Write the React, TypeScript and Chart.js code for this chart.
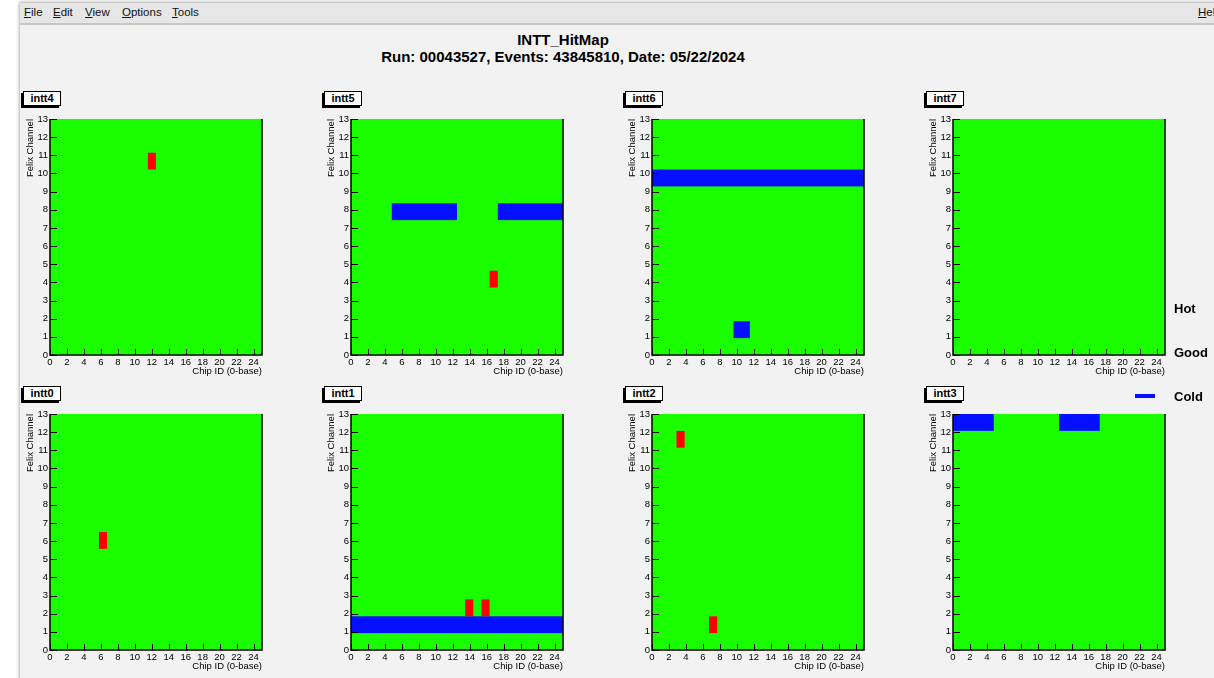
import React, { useEffect, useRef } from 'react';
import { Chart, registerables } from 'chart.js';

Chart.register(...registerables);
Chart.defaults.font.family = '"Liberation Sans", Arial, Helvetica, sans-serif';

// ---------- data ----------
const PANEL_NAMES = ['intt4', 'intt5', 'intt6', 'intt7', 'intt0', 'intt1', 'intt2', 'intt3'];
const X_TICKS = [0, 2, 4, 6, 8, 10, 12, 14, 16, 18, 20, 22, 24];
const Y_TICKS = [0, 1, 2, 3, 4, 5, 6, 7, 8, 9, 10, 11, 12, 13];
const X_MAX = 25;
const Y_MAX = 13;
const N_CHIPS = 26;
const N_CHANNELS = 14;

// hot cells (chip, channel) per panel
const HOT_CHIP = [[12], [17], [], [], [6], [14, 16], [3, 7], []];
const HOT_CHANNEL = [[11], [4], [], [], [6], [2, 2], [12, 1], []];

// cold blocks: chips from..to on a channel, per panel
const COLD_CHIP_FROM = [[], [5, 18], [0, 10], [], [], [0], [], [0, 13]];
const COLD_CHIP_TO = [[], [12, 25], [25, 11], [], [], [25], [], [4, 17]];
const COLD_CHANNEL = [[], [8, 8], [10, 1], [], [], [1], [], [13, 13]];

const LEGEND_LABELS = ['Hot', 'Good', 'Cold'];

const TITLE_1 = 'INTT_HitMap';
const TITLE_2 = 'Run: 00043527, Events: 43845810, Date: 05/22/2024';
const MENU_ITEMS = ['File', 'Edit', 'View', 'Options', 'Tools'];

// ---------- styles ----------
const GREEN = 'rgb(26,255,0)';
const RED = 'rgb(255,0,0)';
const BLUE = 'rgb(5,15,255)';
const BG = '#f2f2f2';
const FONT = '"Liberation Sans", Arial, Helvetica, sans-serif';
const AXIS_FONT = 9.5;

const PLOT_LEFTS = [50, 351, 652, 953];
const PLOT_TOPS = [119, 414];
const PLOT_W = 212;
const PLOT_H = 236;
const PAD_L = 30;
const PAD_T = 10;
const PAD_R = 10;
const PAD_B = 24;

const cellPlugin = {
  id: 'cells',
  afterDatasetsDraw(chart: any) {
    const { ctx, chartArea, scales } = chart;
    const xs = scales.x;
    const ys = scales.y;
    const bw = X_MAX / N_CHIPS;
    const bh = Y_MAX / N_CHANNELS;
    ctx.save();
    ctx.beginPath();
    ctx.rect(chartArea.left, chartArea.top, chartArea.right - chartArea.left, chartArea.bottom - chartArea.top);
    ctx.clip();
    chart.data.datasets.forEach((ds: any) => {
      ctx.fillStyle = ds.backgroundColor;
      ds.data.forEach((d: any) => {
        const x0 = xs.getPixelForValue(d.x * bw);
        const x1 = xs.getPixelForValue((d.x2 + 1) * bw);
        const y0 = ys.getPixelForValue(d.y * bh);
        const y1 = ys.getPixelForValue((d.y2 + 1) * bh);
        ctx.fillRect(Math.min(x0, x1), Math.min(y0, y1), Math.abs(x1 - x0), Math.abs(y1 - y0));
      });
    });
    ctx.restore();

    // inward tick marks
    ctx.save();
    ctx.strokeStyle = '#000';
    ctx.lineWidth = 1;
    ctx.beginPath();
    Y_TICKS.forEach((v) => {
      const py = Math.round(ys.getPixelForValue(v)) + 0.5;
      ctx.moveTo(chartArea.left, py);
      ctx.lineTo(chartArea.left + 7, py);
    });
    X_TICKS.forEach((v) => {
      const px = Math.round(xs.getPixelForValue(v)) + 0.5;
      ctx.moveTo(px, chartArea.bottom);
      ctx.lineTo(px, chartArea.bottom - 6);
    });
    ctx.stroke();
    // frame
    ctx.lineWidth = 1.5;
    ctx.beginPath();
    ctx.moveTo(chartArea.left, chartArea.top);
    ctx.lineTo(chartArea.left, chartArea.bottom);
    ctx.lineTo(chartArea.right, chartArea.bottom);
    ctx.lineTo(chartArea.right, chartArea.top);
    ctx.stroke();
    ctx.restore();
  },
};

function Panel({ index }: { index: number }) {
  const ref = useRef<HTMLCanvasElement | null>(null);
  const col = index % 4;
  const row = Math.floor(index / 4);
  const plotLeft = PLOT_LEFTS[col];
  const plotTop = PLOT_TOPS[row];

  useEffect(() => {
    if (!ref.current) return;
    const good = [{ x: 0, y: 0, x2: N_CHIPS - 1, y2: N_CHANNELS - 1 }];
    const cold = COLD_CHIP_FROM[index].map((c, k) => ({
      x: c,
      x2: COLD_CHIP_TO[index][k],
      y: COLD_CHANNEL[index][k],
      y2: COLD_CHANNEL[index][k],
    }));
    const hot = HOT_CHIP[index].map((c, k) => ({
      x: c,
      x2: c,
      y: HOT_CHANNEL[index][k],
      y2: HOT_CHANNEL[index][k],
    }));
    const chart = new Chart(ref.current, {
      type: 'scatter',
      data: {
        datasets: [
          { label: 'Good', data: good, backgroundColor: GREEN },
          { label: 'Cold', data: cold, backgroundColor: BLUE },
          { label: 'Hot', data: hot, backgroundColor: RED },
        ] as any,
      },
      options: {
        responsive: false,
        animation: false,
        events: [],
        layout: { padding: { left: 0, top: PAD_T, right: PAD_R, bottom: 0 } },
        elements: { point: { radius: 0, hoverRadius: 0 } },
        plugins: {
          legend: { display: false },
          tooltip: { enabled: false },
          title: { display: false },
        },
        scales: {
          x: {
            type: 'linear',
            min: 0,
            max: X_MAX,
            afterBuildTicks: (s: any) => {
              s.ticks = X_TICKS.map((v) => ({ value: v }));
            },
            afterFit: (s: any) => {
              s.height = PAD_B;
            },
            grid: { display: false, drawTicks: false },
            border: { display: false },
            ticks: {
              padding: 2,
              color: '#000',
              font: { size: AXIS_FONT },
              maxRotation: 0,
              autoSkip: false,
            },
            title: {
              display: true,
              text: 'Chip ID (0-base)',
              align: 'end',
              color: '#000',
              font: { size: AXIS_FONT },
              padding: { top: 0, bottom: 2 },
            },
          },
          y: {
            type: 'linear',
            min: 0,
            max: Y_MAX,
            afterBuildTicks: (s: any) => {
              s.ticks = Y_TICKS.map((v) => ({ value: v }));
            },
            afterFit: (s: any) => {
              s.width = PAD_L;
            },
            grid: { display: false, drawTicks: false },
            border: { display: false },
            ticks: {
              padding: 2,
              color: '#000',
              font: { size: AXIS_FONT },
              autoSkip: false,
            },
            title: {
              display: true,
              text: 'Felix Channel',
              align: 'end',
              color: '#000',
              font: { size: AXIS_FONT },
              padding: { top: 4.5, bottom: 0 },
            },
          },
        },
      } as any,
      plugins: [cellPlugin],
    });
    return () => chart.destroy();
  }, [index]);

  const cw = PAD_L + PLOT_W + PAD_R;
  const ch = PAD_T + PLOT_H + PAD_B;
  return (
    <>
      <div
        style={{
          position: 'absolute',
          left: plotLeft - 27,
          top: plotTop - 28,
          width: 36,
          height: 13,
          border: '1px solid #000',
          boxShadow: '-2px 2px 0 #000',
          background: '#fff',
          font: `bold 11px ${FONT}`,
          lineHeight: '13px',
          textAlign: 'center',
          color: '#000',
        }}
      >
        {PANEL_NAMES[index]}
      </div>
      <canvas
        ref={ref}
        width={cw}
        height={ch}
        style={{
          position: 'absolute',
          left: plotLeft - PAD_L,
          top: plotTop - PAD_T,
          width: cw,
          height: ch,
        }}
      />
    </>
  );
}

export default function App() {
  const menuX = [24, 53, 85, 122, 172];
  return (
    <div
      style={{
        position: 'absolute',
        left: 0,
        top: 0,
        width: 1214,
        height: 678,
        background: '#fff',
        overflow: 'hidden',
        fontFamily: FONT,
      }}
    >
      <div
        style={{
          position: 'absolute',
          left: 20,
          top: 2,
          width: 1200,
          height: 680,
          background: BG,
          boxShadow: '-1px 0 3px rgba(0,0,0,0.3)',
        }}
      />
      {/* menu bar */}
      <div
        style={{
          position: 'absolute',
          left: 20,
          top: 2,
          width: 1200,
          height: 20,
          background: '#e6e6e6',
          borderTop: '1px solid #c8c8c8',
          borderBottom: '2px solid #c6c6c6',
        }}
      />
      {MENU_ITEMS.map((m, i) => (
        <div
          key={m}
          style={{
            position: 'absolute',
            left: menuX[i],
            top: 5,
            font: `11.5px ${FONT}`,
            lineHeight: '14px',
            color: '#111',
          }}
        >
          <u>{m[0]}</u>
          {m.slice(1)}
        </div>
      ))}
      <div
        style={{
          position: 'absolute',
          left: 1198,
          top: 5,
          font: `11.5px ${FONT}`,
          lineHeight: '14px',
          color: '#111',
        }}
      >
        <u>H</u>elp
      </div>

      {/* title */}
      <div
        style={{
          position: 'absolute',
          left: 263,
          width: 600,
          top: 31,
          textAlign: 'center',
          font: `bold 15px ${FONT}`,
          lineHeight: '17px',
          color: '#000',
        }}
      >
        {TITLE_1}
      </div>
      <div
        style={{
          position: 'absolute',
          left: 263,
          width: 600,
          top: 48,
          textAlign: 'center',
          font: `bold 15px ${FONT}`,
          lineHeight: '17px',
          color: '#000',
        }}
      >
        {TITLE_2}
      </div>

      {PANEL_NAMES.map((_, i) => (
        <Panel key={i} index={i} />
      ))}

      {/* legend */}
      {LEGEND_LABELS.map((l, i) => (
        <div
          key={l}
          style={{
            position: 'absolute',
            left: 1174,
            top: [301, 345, 389][i],
            font: `bold 13px ${FONT}`,
            lineHeight: '16px',
            color: '#000',
          }}
        >
          {l}
        </div>
      ))}
      <div
        style={{
          position: 'absolute',
          left: 1135,
          top: 394,
          width: 20,
          height: 4,
          background: BLUE,
        }}
      />
    </div>
  );
}
